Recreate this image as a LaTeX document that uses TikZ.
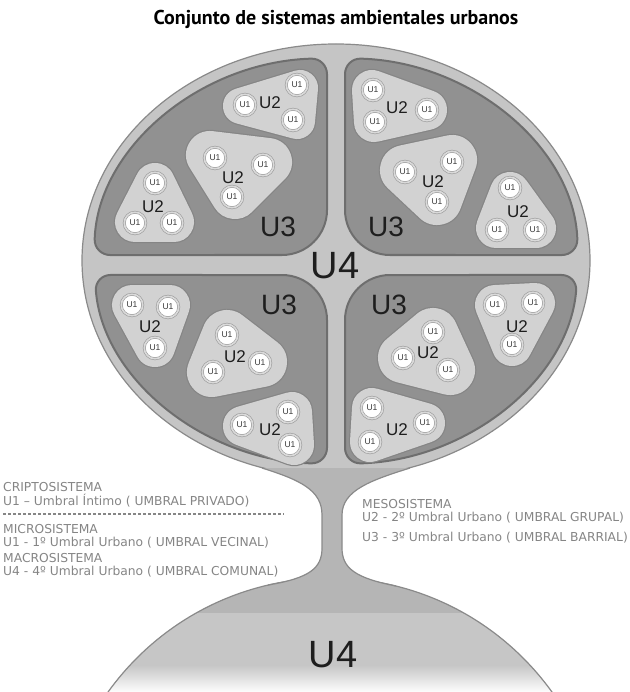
\documentclass[tikz,border=0pt]{standalone}
\usepackage{fontspec}
\setmainfont{Liberation Sans}
\newfontfamily\titlefont{PT Sans}
\newfontfamily\legendfont{DejaVu Sans}
\definecolor{ufour}{HTML}{C5C5C5}
\definecolor{ufourline}{HTML}{8A8A8A}
\definecolor{uthree}{HTML}{919191}
\definecolor{uthreeline}{HTML}{6E6E6E}
\definecolor{utwo}{HTML}{D2D2D2}
\definecolor{utwoline}{HTML}{858585}
\definecolor{uoneline}{HTML}{9A9A9A}
\definecolor{uonering}{HTML}{DADADA}
\definecolor{uonetext}{HTML}{3A3A3A}
\definecolor{labeltext}{HTML}{1E1E1E}
\definecolor{legendtext}{HTML}{858585}
\definecolor{stemgray}{HTML}{B5B5B5}
\definecolor{domegray}{HTML}{C6C6C6}
\newcommand\utwoblob[4]{%
  \pgfmathsetmacro\blobouter{2*#4+2.4}%
  \pgfmathsetmacro\blobinner{2*#4}%
  \draw[line join=round, draw=utwoline, fill=utwoline, line width=\blobouter pt] #1 -- #2 -- #3 -- cycle;
  \draw[line join=round, draw=utwo, fill=utwo, line width=\blobinner pt] #1 -- #2 -- #3 -- cycle;}
\begin{document}
\begin{tikzpicture}[x={(1pt,0)}, y={(0,-1pt)},
  uone/.style={circle, draw=uoneline, line width=0.6pt, double=uonering, double distance=1.6pt,
    fill=white, minimum size=21.5pt, inner sep=0pt, font=\fontsize{8.5}{9}\selectfont, text=uonetext},
  lbltwo/.style={inner sep=0pt, font=\fontsize{17}{17}\selectfont, text=labeltext},
  lblthree/.style={inner sep=0pt, font=\fontsize{28}{28}\selectfont, text=labeltext},
  lblfour/.style={inner sep=0pt, font=\fontsize{38}{38}\selectfont, text=labeltext},
  uthreestyle/.style={fill=uthree, draw=uthreeline, line width=2pt},
  legend/.style={inner sep=0pt, anchor=west, font=\legendfont\fontsize{12.3}{13}\selectfont, text=legendtext},
  outline/.style={draw=ufourline, line width=1.2pt}]
\useasboundingbox (0,0) rectangle (629,692);
% title
\node[inner sep=0pt, font=\titlefont\bfseries\fontsize{20}{20}\selectfont] (title) at (336,19) {Conjunto de sistemas ambientales urbanos};
% bottom dome
\begin{scope}
  \clip (0,0) rectangle (629,692);
  \fill[stemgray] (330,851) circle[radius=273];
  \begin{scope}
    \clip (330,851) circle[radius=273];
    \fill[domegray] (0,613) rectangle (629,666);
    \shade[top color=domegray, bottom color=white] (0,665) rectangle (629,693);
  \end{scope}
  \draw[outline] (330,851) circle[radius=273];
\end{scope}
% big circle
\draw[fill=ufour, outline] (336,260.5) ellipse[x radius=254, y radius=216.5];
% stem
\fill[stemgray] (262,468) .. controls (300,480) and (322,490) .. (322,515) -- (322,548)
  .. controls (322,568) and (310,578) .. (268,585) -- (396,586)
  .. controls (355,578) and (342,568) .. (342,548) -- (342,515)
  .. controls (342,490) and (372,480) .. (410,468) -- cycle;
\draw[outline] (262,468) .. controls (300,480) and (322,490) .. (322,515) -- (322,548)
  .. controls (322,568) and (310,578) .. (268,585);
\draw[outline] (396,586) .. controls (355,578) and (342,568) .. (342,548) -- (342,515)
  .. controls (342,490) and (372,480) .. (410,468);
% U3 quadrants
\draw[uthreestyle] (327,160) [rounded corners=16pt] -- (327,58.14)
  arc[start angle=267.87, end angle=181.69, x radius=242, y radius=203] -- (200,255)
  [rounded corners=45pt] -- (327,255) -- cycle;
\draw[uthreestyle] (345,160) [rounded corners=16pt] -- (345,58.14)
  arc[start angle=272.13, end angle=358.31, x radius=242, y radius=203] -- (470,255)
  [rounded corners=45pt] -- (345,255) -- cycle;
\draw[uthreestyle] (327,370) [rounded corners=16pt] -- (327,463.86)
  arc[start angle=92.13, end angle=176.05, x radius=242, y radius=203] -- (200,275)
  [rounded corners=45pt] -- (327,275) -- cycle;
\draw[uthreestyle] (345,370) [rounded corners=16pt] -- (345,463.86)
  arc[start angle=87.87, end angle=3.95, x radius=242, y radius=203] -- (470,275)
  [rounded corners=45pt] -- (345,275) -- cycle;
% U2 blobs
\utwoblob{(241,106)}{(300,88)}{(297,121)}{18}
\utwoblob{(210,155)}{(268,162)}{(235,195)}{24}
\utwoblob{(155,183)}{(135,222)}{(174,222)}{20}
\utwoblob{(372,90)}{(374,122)}{(427,110)}{20}
\utwoblob{(405,170)}{(452,160)}{(437,200)}{25}
\utwoblob{(510,192)}{(496,228)}{(536,228)}{20}
\utwoblob{(132,305)}{(170,305)}{(155,347)}{20}
\utwoblob{(227,335)}{(212,372)}{(262,362)}{25}
\utwoblob{(292,412)}{(243,426)}{(294,445)}{20}
\utwoblob{(495,305)}{(535,303)}{(512,346)}{20}
\utwoblob{(433,333)}{(403,358)}{(450,370)}{25}
\utwoblob{(372,408)}{(370,442)}{(425,423)}{20}
% U1 circles
\node[uone] (a1) at (297,85) {U1};
\node[uone] (a2) at (245,105) {U1};
\node[uone] (a3) at (293,120) {U1};
\node[uone] (b1) at (215,158) {U1};
\node[uone] (b2) at (263,165) {U1};
\node[uone] (b3) at (232,197) {U1};
\node[uone] (c1) at (155,183) {U1};
\node[uone] (c2) at (135,223) {U1};
\node[uone] (c3) at (172,223) {U1};
\node[uone] (d1) at (373,90) {U1};
\node[uone] (d2) at (375,122) {U1};
\node[uone] (d3) at (427,110) {U1};
\node[uone] (e1) at (405,172) {U1};
\node[uone] (e2) at (452,162) {U1};
\node[uone] (e3) at (437,202) {U1};
\node[uone] (f1) at (510,188) {U1};
\node[uone] (f2) at (497,230) {U1};
\node[uone] (f3) at (535,230) {U1};
\node[uone] (g1) at (132,305) {U1};
\node[uone] (g2) at (168,307) {U1};
\node[uone] (g3) at (155,348) {U1};
\node[uone] (h1) at (227,335) {U1};
\node[uone] (h2) at (213,372) {U1};
\node[uone] (h3) at (260,363) {U1};
\node[uone] (i1) at (288,412) {U1};
\node[uone] (i2) at (242,425) {U1};
\node[uone] (i3) at (290,445) {U1};
\node[uone] (j1) at (495,305) {U1};
\node[uone] (j2) at (533,303) {U1};
\node[uone] (j3) at (512,345) {U1};
\node[uone] (k1) at (433,332) {U1};
\node[uone] (k2) at (403,358) {U1};
\node[uone] (k3) at (448,370) {U1};
\node[uone] (l1) at (372,408) {U1};
\node[uone] (l2) at (370,442) {U1};
\node[uone] (l3) at (425,423) {U1};
% U2 labels
\node[lbltwo] (ua) at (270,103) {U2};
\node[lbltwo] (ub) at (233,178) {U2};
\node[lbltwo] (uc) at (153,207) {U2};
\node[lbltwo] (ud) at (397,108) {U2};
\node[lbltwo] (ue) at (433,182) {U2};
\node[lbltwo] (uf) at (518,212) {U2};
\node[lbltwo] (ug) at (150,327) {U2};
\node[lbltwo] (uh) at (235,357) {U2};
\node[lbltwo] (ui) at (270,430) {U2};
\node[lbltwo] (uj) at (517,327) {U2};
\node[lbltwo] (uk) at (428,353) {U2};
\node[lbltwo] (ul) at (397,430) {U2};
% U3 / U4 labels
\node[lblthree] (tl) at (278,227) {U3};
\node[lblthree] (tr) at (386,227) {U3};
\node[lblthree] (bl) at (279,305) {U3};
\node[lblthree] (br) at (389,305) {U3};
\node[lblfour] (ufourtop) at (335,266) {U4};
\node[lblfour] (ufourbot) at (333,655) {U4};
% legend left
\node[legend] (l1a) at (3,487) {CRIPTOSISTEMA};
\node[legend] (l1b) at (3,501) {U1 – Umbral Íntimo ( UMBRAL PRIVADO)};
\coordinate (dashl) at (3,514);
\coordinate (dashr) at (284,514);
\draw[legendtext, line width=1.2pt, dash pattern=on 3pt off 2pt] (dashl) -- (dashr);
\node[legend] (l2a) at (3,529) {MICROSISTEMA};
\node[legend] (l2b) at (3,543) {U1 - 1º Umbral Urbano ( UMBRAL VECINAL)};
\node[legend] (l3a) at (3,558) {MACROSISTEMA};
\node[legend] (l3b) at (3,572) {U4 - 4º Umbral Urbano ( UMBRAL COMUNAL)};
% legend right
\node[legend] (r1) at (362,504) {MESOSISTEMA};
\node[legend] (r2) at (362,518) {U2 - 2º Umbral Urbano ( UMBRAL GRUPAL)};
\node[legend] (r3) at (362,538) {U3 - 3º Umbral Urbano ( UMBRAL BARRIAL)};
\end{tikzpicture}
\end{document}
